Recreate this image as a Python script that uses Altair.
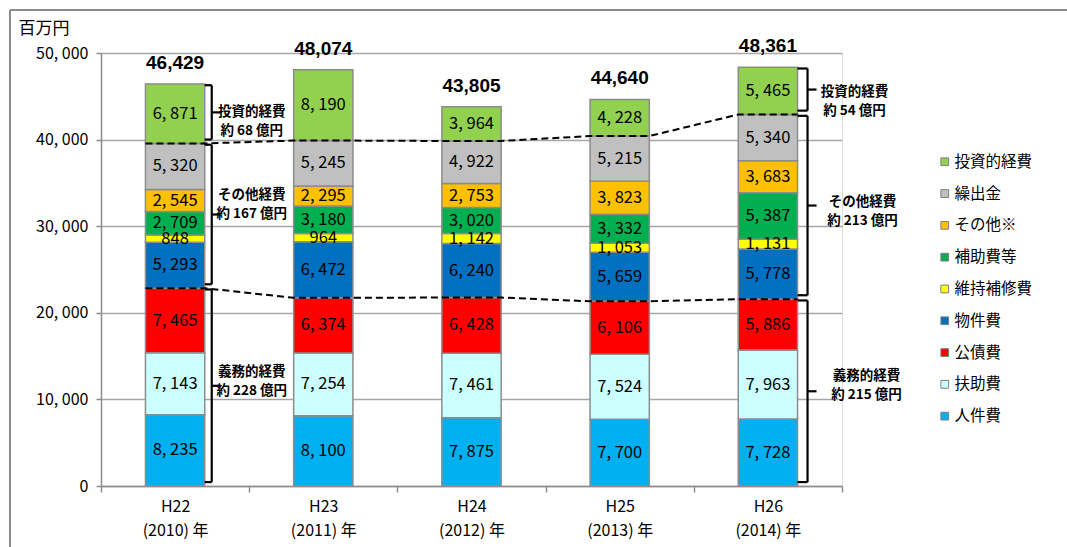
import json
import altair as alt
import pandas as pd

# ---------------- data ----------------
categories = ["H22", "H23", "H24", "H25", "H26"]
year_labels = ["(2010) 年", "(2011) 年", "(2012) 年", "(2013) 年", "(2014) 年"]

series_names = ["人件費", "扶助費", "公債費", "物件費", "維持補修費",
                "補助費等", "その他※", "繰出金", "投資的経費"]
series_colors = ["#00B0F0", "#CCFFFF", "#FF0000", "#0070C0", "#FFFF00",
                 "#00B050", "#FFC000", "#C0C0C0", "#92D050"]

jinkenhi = [8235, 8100, 7875, 7700, 7728]
fujohi = [7143, 7254, 7461, 7524, 7963]
kousaihi = [7465, 6374, 6428, 6106, 5886]
bukkenhi = [5293, 6472, 6240, 5659, 5778]
ijihoshuhi = [848, 964, 1142, 1053, 1131]
hojohi = [2709, 3180, 3020, 3332, 5387]
sonota = [2545, 2295, 2753, 3823, 3683]
kuridashikin = [5320, 5245, 4922, 5215, 5340]
toshiteki = [6871, 8190, 3964, 4228, 5465]

series_values = [jinkenhi, fujohi, kousaihi, bukkenhi, ijihoshuhi,
                 hojohi, sonota, kuridashikin, toshiteki]

# bracket groups: (name, first series index, end series index)
groups = [("投資的経費", 8, 9), ("その他経費", 3, 8), ("義務的経費", 0, 3)]
annotated_bars = [0, 4]
annot_dx = {0: [47, 47, 47], 4: [57, 65, 69]}
annot_dy = {0: [0, -20, -14], 4: [2, -4, -15]}
hook_px = {0: 7, 4: 10}

# ---------------- geometry helpers ----------------
W, H = 741, 433
STEP = W / len(categories)
HALF = 0.2  # half bar width in category units
FONT = "Noto Sans CJK JP"

rows = []
cums = []
for i, cat in enumerate(categories):
    base = 0
    c = [0]
    for j, name in enumerate(series_names):
        v = series_values[j][i]
        rows.append(dict(cat=cat, series=name, x0=i - HALF, x1=i + HALF, xc=i,
                         y0=base, y1=base + v, ymid=base + v / 2,
                         label=f"{v:,}".replace(",", ", ")))
        base += v
        c.append(base)
    cums.append(c)
bars = pd.DataFrame(rows)

tot = pd.DataFrame(dict(xc=list(range(len(categories))),
                        total=[c[-1] for c in cums],
                        label=[f"{c[-1]:,}" for c in cums]))

# dashed connector lines
lrows = []
for lname, k in (("lower", 3), ("upper", 8)):
    for i in range(len(categories)):
        for xx in (i - HALF, i + HALF):
            lrows.append(dict(line=lname, x=xx, y=cums[i][k]))
lines = pd.DataFrame(lrows)

# brackets and annotation texts
seg = []
trow = []
for i in annotated_bars:
    hx = hook_px[i] / STEP
    nx = 9 / STEP
    xr = i + HALF
    for g, (gname, a, b) in enumerate(groups):
        top = cums[i][b] - 150
        bot = cums[i][a] + 450
        mid = (top + bot) / 2
        seg.append(dict(x=xr, x2=xr + hx, y=top, y2=top))
        seg.append(dict(x=xr, x2=xr + hx, y=bot, y2=bot))
        seg.append(dict(x=xr + hx, x2=xr + hx, y=bot, y2=top))
        seg.append(dict(x=xr + hx, x2=xr + hx + nx, y=mid, y2=mid))
        amount = (cums[i][b] - cums[i][a]) // 100
        trow.append(dict(x=xr, y=mid, dx=annot_dx[i][g], dy=annot_dy[i][g],
                         text=[gname, f"約 {amount} 億円"]))
segs = pd.DataFrame(seg)
texts = pd.DataFrame(trow)

# ---------------- scales & axes ----------------
xscale = alt.Scale(domain=[-0.5, len(categories) - 0.5], nice=False, zero=False)
yscale = alt.Scale(domain=[0, 50000], nice=False)

cat_js = json.dumps(categories, ensure_ascii=False)
yr_js = json.dumps(year_labels, ensure_ascii=False)
x_axis = alt.Axis(
    values=[i - 0.5 for i in range(len(categories) + 1)],
    labelExpr=(f"datum.value < {len(categories) - 1} ? "
               f"[{cat_js}[floor(datum.value + 1)], {yr_js}[floor(datum.value + 1)]] : ''"),
    labelOffset=STEP / 2, labelFlush=False, labelOverlap=False, labelBound=False,
    labelFont=FONT, labelFontSize=16, labelColor="#000", labelLineHeight=24,
    labelPadding=6, labelBaseline="top",
    tickSize=6, tickColor="#8c8c8c", tickWidth=1.5,
    domainColor="#8c8c8c", domainWidth=1.5, grid=False, title=None,
)
y_axis = alt.Axis(
    values=[0, 10000, 20000, 30000, 40000, 50000],
    labelExpr="replace(format(datum.value, ','), ',', ', ')",
    labelFont=FONT, labelFontSize=16, labelColor="#000", labelPadding=8,
    labelFlush=False,
    tickSize=5, tickColor="#8c8c8c", tickWidth=1.5,
    domainColor="#8c8c8c", domainWidth=1.5,
    grid=True, gridColor="#a6a6a6", gridWidth=1.5,
    title="百万円", titleAngle=0, titleAlign="left", titleBaseline="middle",
    titleX=-83, titleY=-25, titleFont=FONT, titleFontSize=17,
    titleFontWeight="normal", titleColor="#000",
)

bar_layer = alt.Chart(bars).mark_bar(stroke="#8c8c8c", strokeWidth=1.5).encode(
    x=alt.X("x0:Q", scale=xscale, axis=x_axis),
    x2="x1:Q",
    y=alt.Y("y0:Q", scale=yscale, axis=y_axis),
    y2="y1:Q",
    color=alt.Color("series:N",
                    scale=alt.Scale(domain=series_names[::-1], range=series_colors[::-1]),
                    legend=alt.Legend(
                        title=None, orient="none", legendX=836, legendY=101,
                        symbolType="square", symbolSize=60,
                        symbolStrokeColor="#7f7f7f", symbolStrokeWidth=1,
                        labelFont=FONT, labelFontSize=15.5, labelColor="#000",
                        labelOffset=2, rowPadding=14.8, padding=0)),
)

value_layer = alt.Chart(bars).mark_text(font=FONT, fontSize=16.5, color="#000",
                                        baseline="middle").encode(
    x="xc:Q", y="ymid:Q", text="label:N")

total_layer = alt.Chart(tot).mark_text(font="Liberation Sans", fontSize=19,
                                       fontWeight="bold", color="#000",
                                       baseline="middle", dy=-21).encode(
    x="xc:Q", y="total:Q", text="label:N")

line_layer = alt.Chart(lines).mark_line(color="#000", strokeWidth=2,
                                        strokeDash=[7, 4]).encode(
    x="x:Q", y="y:Q", detail="line:N", order="x:Q")

bracket_layer = alt.Chart(segs).mark_rule(color="#000", strokeWidth=2.2).encode(
    x="x:Q", x2="x2:Q", y="y:Q", y2="y2:Q")

# annotation text needs per-row dx/dy -> separate small charts
annot_layers = []
for _, r in texts.iterrows():
    annot_layers.append(
        alt.Chart(pd.DataFrame([r])).mark_text(
            font=FONT, fontSize=13.5, fontWeight="bold", color="#000",
            align="center", baseline="middle", lineHeight=19,
            dx=float(r["dx"]), dy=float(r["dy"])).encode(
            x="x:Q", y="y:Q", text="text"))

frame_data = pd.DataFrame({"a": [0]})
frame_left = alt.Chart(frame_data).mark_rule(color="#8c8c8c", strokeWidth=2).encode(
    x=alt.value(-91), y=alt.value(-43), y2=alt.value(H + 80))
frame_top = alt.Chart(frame_data).mark_rule(color="#8c8c8c", strokeWidth=2).encode(
    x=alt.value(-91), x2=alt.value(W + 240), y=alt.value(-43))

chart = alt.layer(
    frame_left, frame_top, bar_layer, value_layer, line_layer, bracket_layer,
    total_layer, *annot_layers
).properties(
    width=W, height=H,
    autosize=alt.AutoSizeParams(type="none"),
    padding={"left": 101, "top": 53, "right": 1067 - 101 - W, "bottom": 547 - 53 - H},
).configure_view(stroke=None).configure(background="white")

chart.save("out.html", embed_options={"renderer": "svg", "actions": False})
